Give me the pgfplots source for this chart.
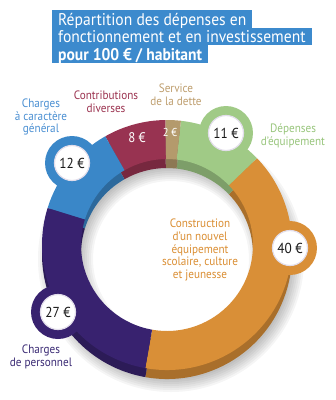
\documentclass[border=0pt]{standalone}
\usepackage{pgfplots}
\pgfplotsset{compat=1.18}
\usepackage{fontspec}
\setmainfont{PT Sans}[FakeStretch=0.92]
\definecolor{cblue}{HTML}{3A87C8}
\definecolor{cmaroon}{HTML}{983351}
\definecolor{ctan}{HTML}{B49A6C}
\definecolor{cgreen}{HTML}{A0CA86}
\definecolor{corange}{HTML}{D98F37}
\definecolor{cpurple}{HTML}{38226F}
\definecolor{ctitle}{HTML}{3C8ACD}
\definecolor{lblue}{HTML}{4A8FD2}
\definecolor{lmaroon}{HTML}{9B3350}
\definecolor{ltan}{HTML}{BE9E6E}
\definecolor{lgreen}{HTML}{98C57C}
\definecolor{lorange}{HTML}{DA8E33}
\definecolor{lpurple}{HTML}{3A2A74}
\definecolor{cbub}{HTML}{E2DDEA}
% #1 centre y (pixels), #2 cumulative start, #3 value, #4 colour
\newcommand\seg[4]{%
  \fill[#4] (axis cs:167,#1) ++({-100+3.6*#2}:125bp)
    arc[start angle={-100+3.6*#2}, delta angle={3.6*#3}, radius=125bp]
    -- ++({-100+3.6*(#2+#3)}:-39bp)
    arc[start angle={-100+3.6*(#2+#3)}, delta angle={-3.6*#3}, radius=86bp] -- cycle;}
\newcommand\bubble[4]{%
  \fill[#3] (axis cs:#1,#2) circle[radius=27bp];
  \fill[white, draw=cbub, line width=1.2bp] (axis cs:#1,#2) circle[radius=17.5bp];
  \node[text=black!90, font=\fontsize{14.5}{15}\selectfont] at (axis cs:#1,#2) {#4};}
\newcommand\lab{\fontsize{12.2}{13}\selectfont}
\begin{document}
\begin{tikzpicture}
\begin{axis}[x=1bp, y=1bp, xmin=0, xmax=336, ymin=0, ymax=400, y dir=reverse,
  hide axis, clip=false]
\path (axis cs:0,0) rectangle (axis cs:336,400);
% soft shadow
\pgfplotsinvokeforeach{0,...,6}{%
  \fill[black, opacity=0.04, even odd rule] (axis cs:171,259) circle[radius={121bp+2bp*#1}]
    (axis cs:171,259) circle[radius={90bp-2bp*#1}];}
% extrusion (darker)
\seg{254}{0}{40}{corange!78!black}
\seg{254}{40}{11}{cgreen!78!black}
\seg{254}{51}{2}{ctan!78!black}
\seg{254}{53}{8}{cmaroon!78!black}
\seg{254}{61}{12}{cblue!78!black}
\seg{254}{73}{27}{cpurple!78!black}
% top faces
\seg{245}{0}{40}{corange}
\seg{245}{40}{11}{cgreen}
\seg{245}{51}{2}{ctan}
\seg{245}{53}{8}{cmaroon}
\seg{245}{61}{12}{cblue}
\seg{245}{73}{27}{cpurple}
% bubbles
\bubble{72}{163}{cblue}{12 €}
\bubble{226}{133}{cgreen}{11 €}
\bubble{290}{248}{corange}{40 €}
\bubble{58}{312}{cpurple}{27 €}
\node[text=white, font=\fontsize{14}{14}\selectfont] at (axis cs:137,138) {8 €};
\node[text=white, font=\fontsize{11.5}{12}\selectfont] at (axis cs:170,132) {2 €};
% category labels
\node[align=center, text=lblue, font=\lab] at (axis cs:41,117) {Charges\\à caractère\\général};
\node[align=center, text=lmaroon, font=\lab] at (axis cs:106,102) {Contributions\\diverses};
\node[align=center, text=ltan, font=\lab] at (axis cs:176,95) {Service\\de la dette};
\node[align=center, text=lgreen, font=\lab] at (axis cs:293,136) {Dépenses\\d’équipement};
\node[align=center, text=lorange, font=\fontsize{12.2}{12.6}\selectfont] at (axis cs:200,250) {Construction\\d’un nouvel\\équipement\\scolaire, culture\\et jeunesse};
\node[align=center, text=lpurple, font=\lab] at (axis cs:41,357) {Charges\\de personnel};
% title
\node[anchor=north west, fill=ctitle, text=white, inner xsep=6bp, inner ysep=0pt,
  text height=15bp, text depth=2.6bp, font=\fontsize{17}{17}\selectfont] at (axis cs:52,10) {Répartition des dépenses en};
\node[anchor=north west, fill=ctitle, text=white, inner xsep=6bp, inner ysep=0pt,
  text height=15bp, text depth=2.6bp, font=\fontsize{17}{17}\selectfont] at (axis cs:52,27.5) {fonctionnement et en investissement};
\node[anchor=north west, fill=ctitle, text=white, inner xsep=6bp, inner ysep=0pt,
  text height=15bp, text depth=2.6bp, font=\fontsize{17}{17}\selectfont\bfseries] at (axis cs:52,45) {pour 100 € / habitant};
\end{axis}
\end{tikzpicture}
\end{document}
